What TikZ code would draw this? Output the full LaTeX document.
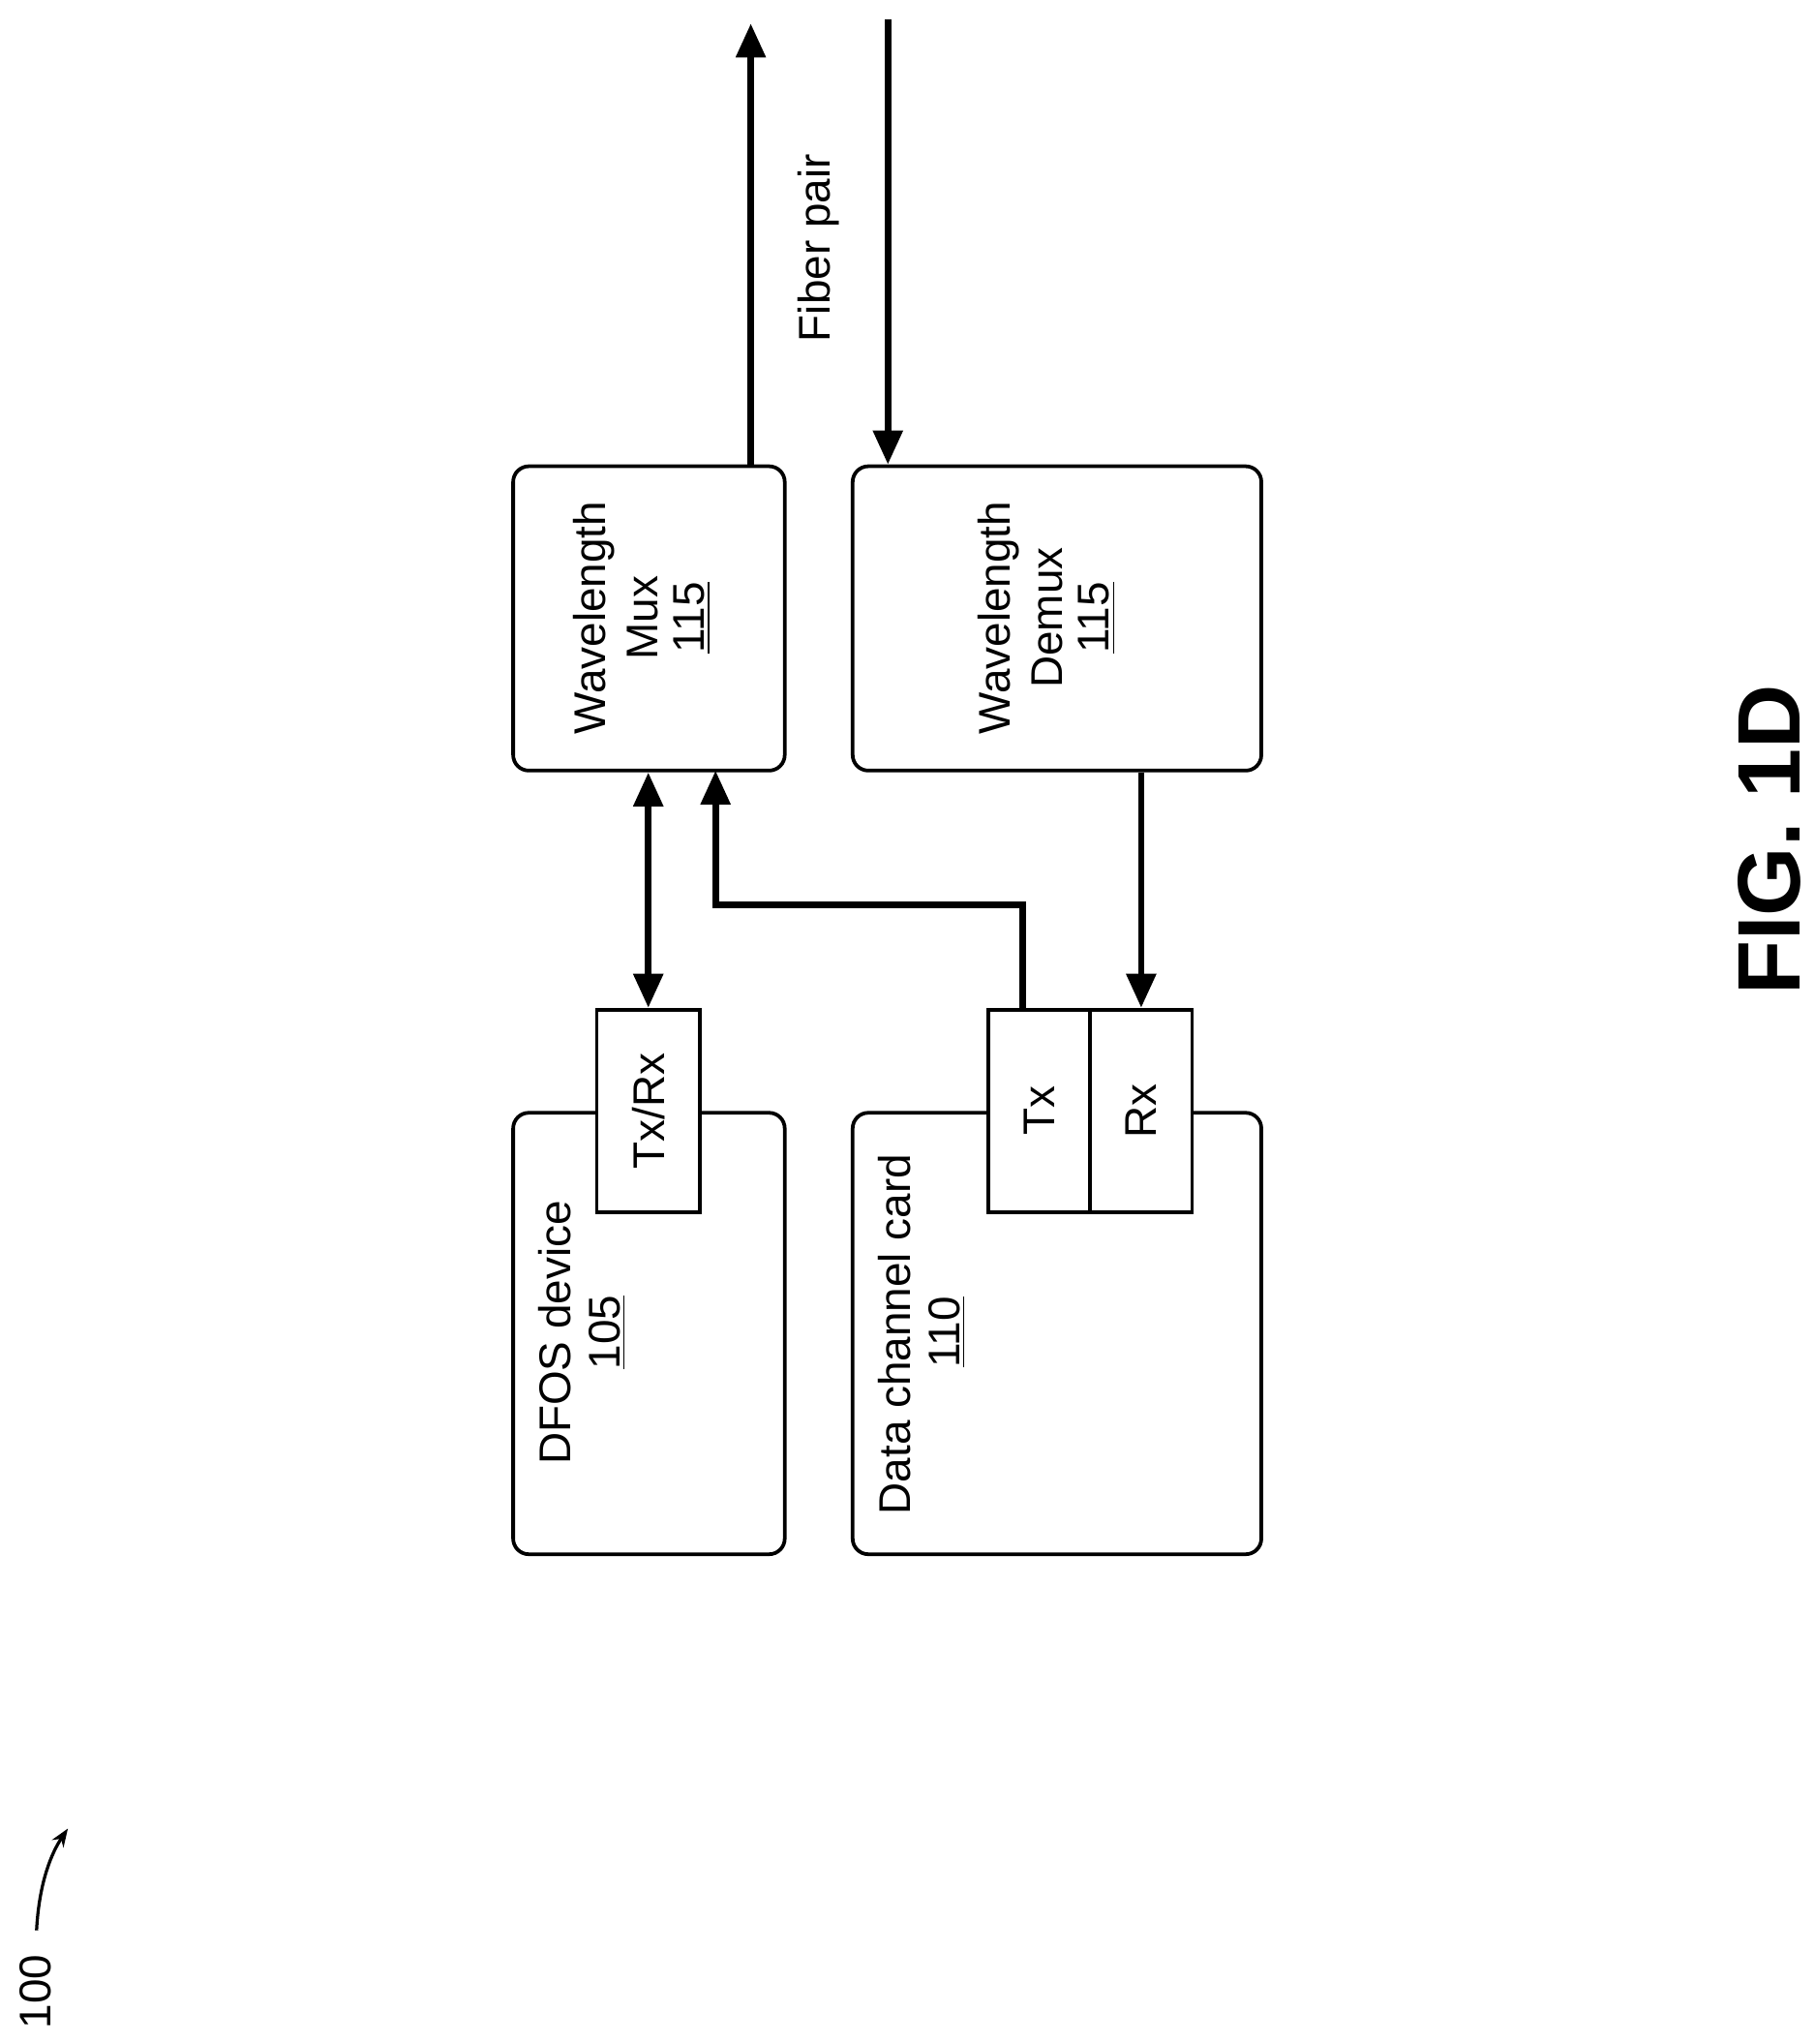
\documentclass[tikz,border=0pt]{standalone}
\usepackage{fontspec}
\setmainfont{Liberation Sans}
\usetikzlibrary{arrows.meta}

\begin{document}
\begin{tikzpicture}[x=0.5pt,y=0.5pt,yscale=-1,
    box/.style={draw, line width=1.4pt, rounded corners=6pt, fill=white},
    port/.style={draw, line width=1.4pt, fill=white, minimum width=39pt, minimum height=77.5pt},
    lbl/.style={rotate=90, inner sep=0pt, font=\fontsize{17}{19}\selectfont},
    link/.style={line width=2.5pt, -{Triangle[length=13pt,width=11pt]}},
    link2/.style={line width=2.5pt, {Triangle[length=13pt,width=11pt]}-{Triangle[length=13pt,width=11pt]}}]
    \useasboundingbox (0,0) rectangle (1390,1565);

    % Blocks
    \node[box, minimum width=104pt, minimum height=169pt] (dfos) at (497,1021) {};
    \node[box, minimum width=156.5pt, minimum height=169pt] (card) at (809.5,1021) {};
    \node[box, minimum width=104pt, minimum height=116.5pt] (mux) at (497,473.5) {};
    \node[box, minimum width=156.5pt, minimum height=116.5pt] (demux) at (809.5,473.5) {};
    \node[port, minimum width=39.5pt] (txrx) at (496.5,850.5) {};
    \node[port] (tx) at (796,850.5) {};
    \node[port] (rx) at (874,850.5) {};

    % Text
    \node[lbl, anchor=west] (dfoslbl) at (425,1122) {DFOS device};
    \node[lbl] (dfosnum) at (465,1020) {\underline{105}};
    \node[lbl, anchor=west] (cardlbl) at (685,1160) {Data channel card};
    \node[lbl] (cardnum) at (725,1020) {\underline{110}};
    \node[lbl] (muxa) at (455,473) {Wavelength};
    \node[lbl] (muxb) at (492,473) {Mux};
    \node[lbl] (muxc) at (530,473) {\underline{115}};
    \node[lbl] (demuxa) at (765,473) {Wavelength};
    \node[lbl] (demuxb) at (802,473) {Demux};
    \node[lbl] (demuxc) at (840,473) {\underline{115}};
    \node[lbl] at (txrx) {Tx/Rx};
    \node[lbl] at (tx) {Tx};
    \node[lbl] at (rx) {Rx};
    \node[lbl] (fiber) at (627,190) {Fiber pair};
    \node[rotate=90, font=\bfseries\fontsize{34}{36}\selectfont] (fig) at (1355,643) {FIG. 1D};
    \node[lbl] (ref) at (27,1525) {100};

    % Connectors
    \coordinate (fiberout) at (575,18);
    \coordinate (fiberin) at (680,15);
    \coordinate (muxin) at (548,590);
    \coordinate (txout) at (783,773);
    \draw[link2] (txrx.north) -- (txrx.north |- mux.south);
    \draw[link] (txout) -- (txout |- 0,693) -| (muxin);
    \draw[link] (demux.south -| rx.north) -- (rx.north);
    \draw[link] (mux.north -| fiberout) -- (fiberout);
    \draw[link] (fiberin) -- (fiberin |- demux.north);
    \draw[line width=1.2pt, -{Stealth[length=7pt]}] (28,1478) .. controls (30,1440) and (40,1418) .. (52,1400);
\end{tikzpicture}
\end{document}
